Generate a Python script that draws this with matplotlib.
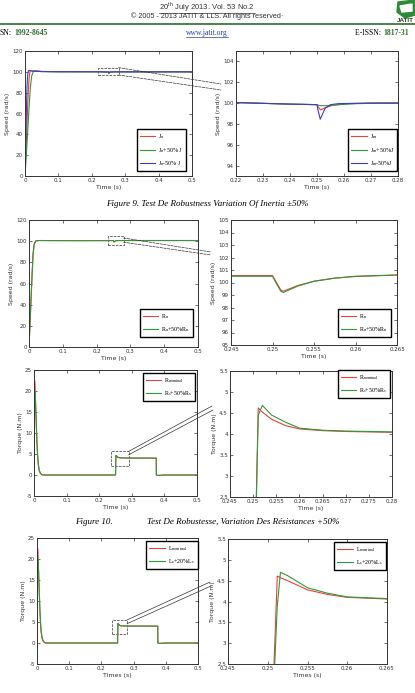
import numpy as np
import matplotlib
matplotlib.use("Agg")
import matplotlib.pyplot as plt
from matplotlib.patches import Rectangle, ConnectionPatch, Polygon
from matplotlib.lines import Line2D
from matplotlib.ticker import FuncFormatter

# ---------------- data ----------------
# Figure 9 : speed, inertia variation
jn_t = [0, 0.003, 0.006, 0.009, 0.012, 0.015, 0.018, 0.025, 0.05, 0.1, 0.2, 0.22, 0.24, 0.25,
        0.2503, 0.2513, 0.2535, 0.256, 0.262, 0.27, 0.28, 0.4, 0.5]
jn_w = [0, 25, 50, 75, 93, 100.5, 101.2, 100.8, 100.3, 100.1, 100.05, 100.05, 99.9, 99.85,
        99.7, 99.35, 99.6, 99.8, 99.95, 100.0, 100.0, 100.0, 100.0]
jp_t = [0, 0.004, 0.008, 0.012, 0.016, 0.02, 0.025, 0.03, 0.05, 0.1, 0.2, 0.22, 0.24, 0.25,
        0.2503, 0.2515, 0.254, 0.258, 0.265, 0.275, 0.28, 0.4, 0.5]
jp_w = [0, 20, 42, 65, 85, 96, 100.5, 101.0, 100.4, 100.1, 100.05, 100.05, 99.9, 99.85,
        99.8, 99.75, 99.75, 99.85, 99.95, 100.0, 100.0, 100.0, 100.0]
jm_t = [0, 0.002, 0.004, 0.006, 0.008, 0.010, 0.013, 0.02, 0.05, 0.1, 0.2, 0.22, 0.24, 0.25,
        0.2503, 0.2512, 0.253, 0.255, 0.258, 0.27, 0.28, 0.4, 0.5]
jm_w = [0, 30, 60, 85, 97, 101, 101.3, 100.8, 100.2, 100.1, 100.05, 100.05, 99.9, 99.85,
        99.4, 98.45, 99.5, 99.85, 99.95, 100.0, 100.0, 100.0, 100.0]

# Figure 10 : speed, resistance variation
rn_t = [0, 0.003, 0.006, 0.009, 0.012, 0.015, 0.02, 0.03, 0.1, 0.2, 0.245, 0.25, 0.2504,
        0.251, 0.2513, 0.253, 0.255, 0.2575, 0.26, 0.265, 0.3, 0.4, 0.5]
rn_w = [0, 22, 45, 68, 88, 97, 100.3, 100.6, 100.5, 100.5, 100.55, 100.55, 100.1,
        99.4, 99.3, 99.75, 100.1, 100.35, 100.48, 100.6, 100.6, 100.6, 100.6]
rs_w = [0, 21, 44, 67, 87, 96.5, 100.2, 100.6, 100.5, 100.5, 100.5, 100.5, 100.0,
        99.3, 99.2, 99.7, 100.1, 100.35, 100.5, 100.6, 100.6, 100.6, 100.6]

# Figure 10 : torque, resistance variation
rt_t = [0, 0.001, 0.002, 0.003, 0.005, 0.007, 0.009, 0.011, 0.013, 0.016, 0.02, 0.025, 0.03,
        0.2502, 0.2511, 0.252, 0.254, 0.257, 0.26, 0.265, 0.27, 0.28, 0.3, 0.375, 0.3753,
        0.38, 0.4, 0.5]
rt_n = [0, 12, 22.5, 21, 17, 12, 7.5, 4.5, 2.5, 1, 0.3, 0.05, 0,
        0, 4.62, 4.52, 4.35, 4.2, 4.12, 4.08, 4.06, 4.04, 4.03, 4.02, 0,
        -0.1, 0, 0]
rt_s = [0, 10, 19, 20, 17, 12.5, 8, 5, 2.8, 1.2, 0.4, 0.08, 0,
        0, 4.45, 4.68, 4.45, 4.28, 4.14, 4.09, 4.07, 4.05, 4.03, 4.02, 0,
        -0.1, 0, 0]

# Figure 10b : torque, inductance variation
lt_t = [0, 0.001, 0.002, 0.003, 0.005, 0.007, 0.009, 0.011, 0.013, 0.016, 0.02, 0.025, 0.03,
        0.2503, 0.2512, 0.2516, 0.2525, 0.255, 0.2575, 0.26, 0.265, 0.28, 0.3, 0.375, 0.3753,
        0.38, 0.4, 0.5]
lt_n = [0, 12, 22.5, 21, 17, 12, 7.5, 4.5, 2.5, 1, 0.3, 0.05, 0,
        0, 4.61, 4.57, 4.5, 4.28, 4.17, 4.1, 4.06, 4.04, 4.03, 4.02, 0,
        -0.1, 0, 0]
lt_s = [0, 10, 19, 20, 17, 12.5, 8, 5, 2.8, 1.2, 0.4, 0.08, 0,
        0, 3.9, 4.70, 4.62, 4.33, 4.2, 4.11, 4.07, 4.05, 4.03, 4.02, 0,
        -0.1, 0, 0]

RED, GREEN, BLUE = "#e8403a", "#2f9a3a", "#3c3cc8"

# ---------------- figure ----------------
W, H = 415, 693
fig = plt.figure(figsize=(W / 100, H / 100), dpi=100)
fig.patch.set_facecolor("white")
SERIF = "Liberation Serif"
plt.rcParams["mathtext.fontset"] = "custom"
plt.rcParams["mathtext.rm"] = SERIF


def box(l, t, r, b):
    return [l / W, 1 - b / H, (r - l) / W, (b - t) / H]


def fpx(x, y):
    return (x / W, 1 - y / H)


fmt = FuncFormatter(lambda v, p: "%g" % v)


def style(ax, xlim, ylim, xticks, yticks, xlabel, ylabel):
    ax.set_xlim(xlim)
    ax.set_ylim(ylim)
    ax.set_xticks(xticks)
    ax.set_yticks(yticks)
    ax.xaxis.set_major_formatter(fmt)
    ax.yaxis.set_major_formatter(fmt)
    ax.tick_params(direction="in", length=2, width=0.5, top=True, right=True,
                   labelsize=4, pad=1.5, colors="#333333")
    for s in ax.spines.values():
        s.set_linewidth(0.7)
        s.set_color("#333333")
    ax.set_xlabel(xlabel, fontsize=4.5, labelpad=1.5, color="#333333")
    ax.set_ylabel(ylabel, fontsize=4.5, labelpad=1.5, color="#333333")


def legend(ax, loc, anchor):
    lg = ax.legend(loc=loc, bbox_to_anchor=fpx(*anchor), bbox_transform=fig.transFigure,
                   prop={"family": SERIF, "size": 4.3}, fancybox=False, framealpha=1,
                   edgecolor="black", handlelength=2.6, borderpad=0.5,
                   labelspacing=0.75, handletextpad=0.5, borderaxespad=0)
    lg.get_frame().set_linewidth(1.0)


def zoom_lines(ax, pts, ls="--"):
    for (xa, ya), (xb, yb) in pts:
        fig.add_artist(ConnectionPatch(xyA=(xa, ya), coordsA=ax.transData,
                                       xyB=fpx(xb, yb), coordsB="figure fraction",
                                       ls=ls, lw=0.5, color="#333333"))


t_major = [0, 0.1, 0.2, 0.3, 0.4, 0.5]
lw = 0.8

# ----- row 1 : Figure 9 -----
a1 = fig.add_axes(box(25, 51, 192, 176))
a1.plot(jn_t, jn_w, color=RED, lw=lw, label=r"J$_{\mathregular{n}}$")
a1.plot(jp_t, jp_w, color=GREEN, lw=lw, label=r"J$_{\mathregular{n}}$+50% J")
a1.plot(jm_t, jm_w, color=BLUE, lw=lw, label=r"J$_{\mathregular{n}}$-50% J")
style(a1, (0, 0.5), (0, 120), t_major, range(0, 121, 20), "Time (s)", "Speed (rad/s)")
a1.add_patch(Rectangle((0.22, 97), 0.06, 7, fill=False, ls="--", lw=0.5, color="#333333"))
legend(a1, "lower right", (186, 171))
zoom_lines(a1, [((0.28, 104), (221, 84)), ((0.28, 97), (221, 90))])

a2 = fig.add_axes(box(236, 51, 398, 176))
a2.plot(jn_t, jn_w, color=RED, lw=lw, label=r"J$_{\mathregular{m}}$")
a2.plot(jp_t, jp_w, color=GREEN, lw=lw, label=r"J$_{\mathregular{m}}$+50%J")
a2.plot(jm_t, jm_w, color=BLUE, lw=lw, label=r"J$_{\mathregular{m}}$-50%J")
style(a2, (0.22, 0.28), (93, 105), [0.22, 0.23, 0.24, 0.25, 0.26, 0.27, 0.28],
      range(94, 105, 2), "Time (s)", "Speed (rad/s)")
legend(a2, "lower right", (397, 171))

fig.text(207 / W, 1 - 204 / H, "Figure 9. Test De Robustness Variation Of Inertia \u00b150%",
         family=SERIF, style="italic", fontsize=6.5, ha="center", va="center")

# ----- row 2 : Figure 10 speed -----
b1 = fig.add_axes(box(29, 220, 198, 347))
b1.plot(rn_t, rn_w, color=RED, lw=lw, label=r"R$_{\mathregular{n}}$")
b1.plot(rn_t, rs_w, color=GREEN, lw=lw, label=r"R$_{\mathregular{n}}$+50%R$_{\mathregular{n}}$")
style(b1, (0, 0.5), (0, 120), t_major, range(0, 121, 20), "Time (s)", "Speed (rad/s)")
b1.add_patch(Rectangle((0.235, 96), 0.045, 9, fill=False, ls="--", lw=0.5, color="#333333"))
legend(b1, "lower right", (193, 337))
zoom_lines(b1, [((0.28, 103), (211, 252)), ((0.28, 99), (211, 255))])

b2 = fig.add_axes(box(231, 220, 397, 345))
b2.plot(rn_t, rn_w, color=RED, lw=lw, label=r"R$_{\mathregular{n}}$")
b2.plot(rn_t, rs_w, color=GREEN, lw=lw, label=r"R$_{\mathregular{n}}$+50%R$_{\mathregular{n}}$")
style(b2, (0.245, 0.265), (95, 105), [0.245, 0.25, 0.255, 0.26, 0.265],
      range(95, 106), "Time (s)", "Speed (rad/s)")
legend(b2, "lower right", (391, 337))

# ----- row 3 : Figure 10 torque -----
c1 = fig.add_axes(box(34, 370, 197, 496))
c1.plot(rt_t, rt_n, color=RED, lw=lw, label=r"R$_{\mathregular{nominal}}$")
c1.plot(rt_t, rt_s, color=GREEN, lw=lw, label=r"R$_{\mathregular{s}}$+50%R$_{\mathregular{s}}$")
style(c1, (0, 0.5), (-5, 25), t_major, range(-5, 26, 5), "Time (s)", "Torque (N.m)")
c1.add_patch(Rectangle((0.235, 2.2), 0.055, 3.4, fill=False, ls="--", lw=0.5, color="#333333"))
legend(c1, "upper right", (195, 373))
zoom_lines(c1, [((0.29, 5.6), (212, 406)), ((0.29, 4.8), (213, 410))], ls="-")

c2 = fig.add_axes(box(230, 371, 392, 497))
c2.plot(rt_t, rt_n, color=RED, lw=lw, label=r"R$_{\mathregular{nominal}}$")
c2.plot(rt_t, rt_s, color=GREEN, lw=lw, label=r"R$_{\mathregular{s}}$+50%R$_{\mathregular{s}}$")
style(c2, (0.245, 0.28), (2.5, 5.5), [0.245, 0.25, 0.255, 0.26, 0.265, 0.27, 0.275, 0.28],
      [2.5, 3, 3.5, 4, 4.5, 5, 5.5], "Time (s)", "Torque (N.m)")
legend(c2, "upper right", (390, 370))

fig.text(75 / W, 1 - 522 / H, "Figure 10.", family=SERIF, style="italic", fontsize=6.5,
         ha="left", va="center")
fig.text(147 / W, 1 - 522 / H, "Test De Robustesse, Variation Des R\u00e9sistances +50%",
         family=SERIF, style="italic", fontsize=6.5, ha="left", va="center")

# ----- row 4 : torque, inductance variation -----
d1 = fig.add_axes(box(37, 538, 198, 664))
d1.plot(lt_t, lt_n, color=RED, lw=lw, label=r"L$_{\mathregular{nominal}}$")
d1.plot(lt_t, lt_s, color=GREEN, lw=lw, label=r"L$_{\mathregular{s}}$+20%L$_{\mathregular{s}}$")
style(d1, (0, 0.5), (-5, 25), t_major, range(-5, 26, 5), "Times (s)", "Torque (N.m)")
d1.add_patch(Rectangle((0.233, 2.2), 0.047, 3.3, fill=False, ls="--", lw=0.5, color="#333333"))
legend(d1, "upper right", (198, 541))
zoom_lines(d1, [((0.28, 5.5), (210, 582)), ((0.28, 4.6), (211, 586))], ls="-")

d2 = fig.add_axes(box(228, 539, 387, 664))
d2.plot(lt_t, lt_n, color=RED, lw=lw, label=r"L$_{\mathregular{nominal}}$")
d2.plot(lt_t, lt_s, color=GREEN, lw=lw, label=r"L$_{\mathregular{s}}$+20%L$_{\mathregular{s}}$")
style(d2, (0.245, 0.265), (2.5, 5.5), [0.245, 0.25, 0.255, 0.26, 0.265],
      [2.5, 3, 3.5, 4, 4.5, 5, 5.5], "Times (s)", "Torque (N.m)")
legend(d2, "upper right", (386, 542))

# ----- page header -----
hdr1 = fig.text(207 / W, 1 - 6.5 / H, r"20$^{\mathregular{th}}$ July 2013. Vol. 53 No.2",
                fontsize=5.5, ha="center", va="center", color="#333333", family="Liberation Sans")
fig.text(207 / W, 1 - 16 / H, "\u00a9 2005 - 2013 JATIT & LLS. All rights reserved\u00b7",
         fontsize=5.2, ha="center", va="center", color="#333333", family="Liberation Sans")
fig.add_artist(Line2D([0, 1], [1 - 24 / H] * 2, color="#2e6b2e", lw=1.2))
fig.text(0, 1 - 33 / H, "SN:", family=SERIF, fontsize=5.5, ha="left", va="center")
fig.text(14 / W, 1 - 33 / H, "1992-8645", family=SERIF, fontsize=5.5, ha="left", va="center",
         color="#2e6b2e", weight="bold")
url = fig.text(207 / W, 1 - 33 / H, "www.jatit.org", family=SERIF, fontsize=5.5, ha="center",
               va="center", color="#2a3fa0")
fig.text(383 / W, 1 - 33 / H, "E-ISSN: ", family=SERIF, fontsize=5.5, ha="right", va="center")
fig.text(383 / W, 1 - 33 / H, "1817-31", family=SERIF, fontsize=5.5, ha="left", va="center",
         color="#2e6b2e", weight="bold")

# logo
fig.add_artist(Polygon([fpx(398, 2), fpx(415, 0), fpx(415, 15), fpx(405, 18), fpx(397, 12)],
                       closed=True, color="#2f8a3a"))
fig.add_artist(Polygon([fpx(400, 6), fpx(412, 4), fpx(412, 11), fpx(402, 12)],
                       closed=True, color="white"))
fig.text(397 / W, 1 - 21 / H, "JATIT", fontsize=4.5, weight="bold", ha="left", va="center",
         color="#1f3f1f", family="Liberation Sans")

# underlines
fig.canvas.draw()
r = fig.canvas.get_renderer()
for t, c in [(hdr1, "#333333"), (url, "#2a3fa0")]:
    bb = t.get_window_extent(r).transformed(fig.transFigure.inverted())
    fig.add_artist(Line2D([bb.x0, bb.x1], [bb.y0 + 0.5 / H] * 2, color=c, lw=0.5))

fig.savefig("out.png", dpi=100)
